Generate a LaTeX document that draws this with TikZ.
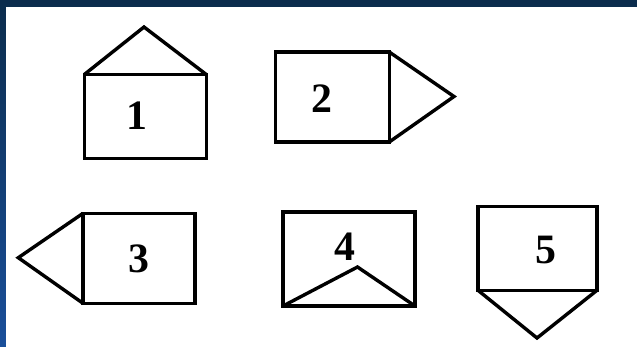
\documentclass[tikz,border=0pt]{standalone}
\usepackage{fontspec}
\setmainfont{Liberation Serif}
\usetikzlibrary{positioning}
\definecolor{navytop}{HTML}{0B2C4C}
\definecolor{navybot}{HTML}{1A4F9A}
\tikzset{
  box/.style={rectangle,draw,line width=3.4bp,inner sep=0pt,outer sep=0pt},
  roof/.style={draw,line width=3.4bp,line join=miter},
  num/.style={inner sep=0pt,font=\fontsize{42}{42}\selectfont\bfseries}
}

\begin{document}
\begin{tikzpicture}[x=1bp,y=-1bp]
\useasboundingbox (0,0) rectangle (637,346);
\shade[top color=navytop, bottom color=navybot] (0,0) rectangle (637,346);
\fill[white] (6,7) rectangle (645,355);
% figure 1
\node[box, minimum width=122bp, minimum height=84bp] (b1) at (145.3,116.5) {};
\coordinate (t1) at (144,27);
\node[num] (n1) at (137,116) {1};
\draw[roof] (b1.north west) -- (t1) -- (b1.north east);
% figure 2
\node[box, minimum width=113.5bp, minimum height=90bp] (b2) at (332.5,97) {};
\coordinate (t2) at (454,96.5);
\node[num] (n2) at (322,99) {2};
\draw[roof] (b2.north east) -- (t2) -- (b2.south east);
% figure 3
\node[box, minimum width=112bp, minimum height=90bp] (b3) at (139,258.3) {};
\coordinate (t3) at (18.3,257.7);
\node[num] (n3) at (138.5,258.5) {3};
\draw[roof] (b3.north west) -- (t3) -- (b3.south west);
% figure 4
\node[box, minimum width=132bp, minimum height=94bp] (b4) at (349,259) {};
\coordinate (t4) at (357.5,267);
\node[num] (n4) at (345,247) {4};
\draw[roof] (b4.south west) -- (t4) -- (b4.south east);
% figure 5
\node[box, minimum width=119bp, minimum height=84bp] (b5) at (537.5,248.3) {};
\coordinate (t5) at (537,338);
\node[num] (n5) at (546,250) {5};
\draw[roof] (b5.south west) -- (t5) -- (b5.south east);
\end{tikzpicture}
\end{document}
